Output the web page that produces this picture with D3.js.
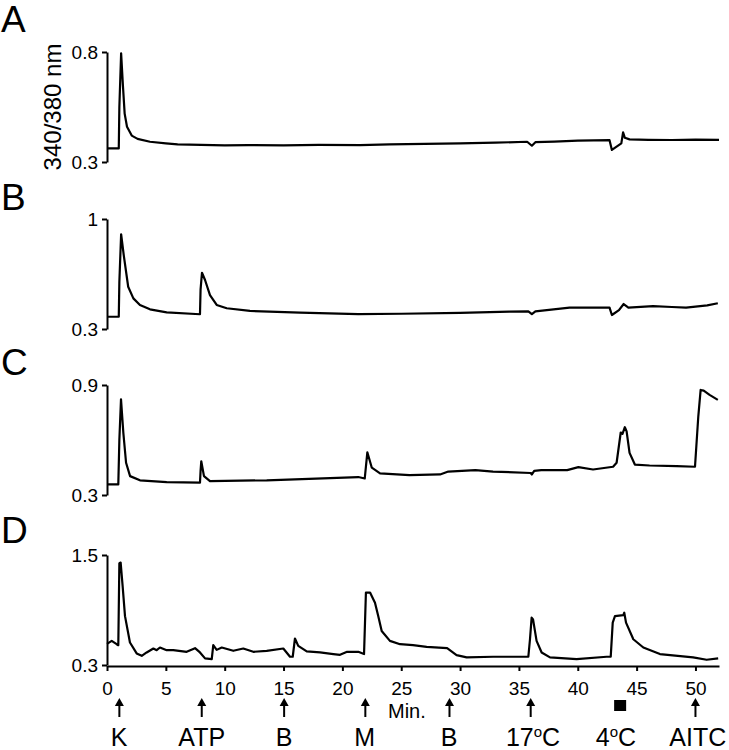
<!DOCTYPE html>
<html><head><meta charset="utf-8">
<script src="https://cdn.jsdelivr.net/npm/d3@7"></script>
<style>
body{margin:0;background:#fff;}
text{font-family:Arial,"Liberation Sans",sans-serif;fill:#000;}
</style></head>
<body>
<svg id="chart" width="729" height="750"></svg>
<script>
// ---- Data (time in min, 340/380 nm ratio) ----
const timesA = [0,1.0,1.05,1.2,1.35,1.5,1.7,2.1,2.6,3.65,5,6,8,10,12,15,18,21.5,24,27,30,33,35.7,36.1,36.4,38,40,42.7,42.9,43.7,43.85,44.0,44.4,46,48,50,52];
const valuesA = [0.362,0.362,0.55,0.794,0.65,0.52,0.46,0.42,0.405,0.392,0.385,0.38,0.378,0.376,0.377,0.376,0.378,0.377,0.38,0.382,0.385,0.388,0.392,0.374,0.39,0.393,0.397,0.399,0.355,0.385,0.435,0.41,0.403,0.401,0.4,0.402,0.401];

const timesB = [0,1.0,1.05,1.2,1.44,1.8,2.24,2.8,3.65,5.07,7.9,7.95,8.07,8.33,8.75,9.32,10.17,12.15,16.4,21.35,25,30,34.2,35.8,36.1,36.4,39.3,42.7,42.9,43.5,43.9,44.3,46.4,48,49.2,51,51.9];
const valuesB = [0.378,0.378,0.6,0.903,0.76,0.569,0.495,0.453,0.425,0.406,0.394,0.55,0.658,0.612,0.516,0.453,0.432,0.415,0.404,0.395,0.397,0.403,0.41,0.412,0.394,0.412,0.436,0.436,0.389,0.42,0.459,0.436,0.446,0.44,0.436,0.45,0.464];

const timesC = [0,0.96,1.05,1.19,1.39,1.62,1.96,2.8,5.07,7.9,7.95,8.01,8.24,8.75,13.57,21.35,21.9,22.12,22.5,23.2,25.7,28.3,29.0,31.3,32.8,36.0,36.1,36.3,36.9,39.1,40.05,41.3,43.0,43.3,43.65,43.8,44.0,44.15,44.4,44.85,46.1,48.4,49.96,50.24,50.44,50.7,51.2,51.9];
const valuesC = [0.358,0.358,0.6,0.822,0.638,0.476,0.403,0.38,0.37,0.367,0.43,0.484,0.403,0.376,0.38,0.398,0.39,0.533,0.449,0.418,0.408,0.412,0.428,0.436,0.428,0.42,0.412,0.432,0.436,0.436,0.452,0.439,0.454,0.476,0.641,0.634,0.67,0.647,0.53,0.466,0.461,0.457,0.454,0.728,0.873,0.869,0.846,0.819];

const timesD = [0,0.4,0.82,0.96,1.05,1.16,1.33,1.53,1.95,2.52,2.95,3.37,3.94,4.22,4.5,5.07,5.63,6.77,7.48,7.9,8.33,8.9,9.03,9.32,9.75,10.73,11.58,12.43,13.57,14.98,15.55,15.78,15.97,16.25,16.97,18.1,19.23,19.8,20.4,21.35,21.84,22.0,22.35,22.77,23.05,23.34,24.04,24.9,26.0,27.16,28.9,29.7,30.56,32.8,35.8,35.94,36.08,36.2,36.5,36.93,37.64,39.9,42.45,42.8,42.97,43.16,43.87,43.95,44.1,44.72,45.57,46.98,49.8,50.95,51.93];
const valuesD = [0.53,0.563,0.527,0.516,1.41,1.417,1.157,0.833,0.545,0.426,0.4,0.437,0.48,0.462,0.491,0.462,0.462,0.444,0.484,0.437,0.372,0.365,0.516,0.465,0.491,0.455,0.48,0.444,0.455,0.48,0.39,0.39,0.589,0.509,0.448,0.437,0.419,0.411,0.444,0.444,0.419,1.09,1.09,0.978,0.833,0.671,0.563,0.527,0.516,0.498,0.484,0.408,0.383,0.39,0.39,0.581,0.816,0.797,0.563,0.437,0.383,0.365,0.39,0.39,0.762,0.833,0.844,0.87,0.762,0.581,0.491,0.419,0.383,0.357,0.372];

const panelLetters = ["A","B","C","D"];
const yDomains = [[0.3,0.8],[0.3,1],[0.3,0.9],[0.3,1.5]];
const yTickLabels = [["0.3","0.8"],["0.3","1"],["0.3","0.9"],["0.3","1.5"]];
const xTicks = [0,5,10,15,20,25,30,35,40,45,50];
const eventTimes = [1.05,8.05,15.05,21.95,29.1,36.0,43.6,50.0];
const labelTimes = [1.03,8.05,15.04,21.9,29.06,36.2,43.25,50.2];
const eventLabels = ["K","ATP","B","M","B","17|C","4|C","AITC"];
const eventMarks = ["arrow","arrow","arrow","arrow","arrow","arrow","square","arrow"];

// ---- Layout ----
const svg = d3.select("#chart");
const x = d3.scaleLinear().domain([0,52]).range([107,719]);
const panelTops = [52,219,385,555];
const panelH = 110;
const letterY = [32,210,375,543];
const series = [[timesA,valuesA],[timesB,valuesB],[timesC,valuesC],[timesD,valuesD]];

series.forEach((s,i)=>{
  const y = d3.scaleLinear().domain(yDomains[i]).range([panelTops[i]+panelH, panelTops[i]]);
  const g = svg.append("g");
  const ax = d3.axisLeft(y).tickValues(yDomains[i]).tickSize(5).tickSizeOuter(0).tickPadding(4)
    .tickFormat((d,k)=>yTickLabels[i][k]);
  const ag = g.append("g").attr("transform","translate(107,0)").call(ax);
  ag.selectAll("path,line").attr("stroke","#000").attr("stroke-width",2);
  ag.selectAll("text").style("font-size","19px").style("font-family","Arial,'Liberation Sans',sans-serif");
  const pts = s[0].map((t,k)=>[t,s[1][k]]);
  g.append("path").datum(pts)
    .attr("fill","none").attr("stroke","#000").attr("stroke-width",2.2).attr("stroke-linejoin","round")
    .attr("d", d3.line().x(d=>x(d[0])).y(d=>y(d[1])));
  svg.append("text").attr("x",1).attr("y",letterY[i]).style("font-size","37px").text(panelLetters[i]);
  if(i===3){
    const xa = d3.axisBottom(x).tickValues(xTicks).tickSize(5).tickSizeOuter(0).tickPadding(11);
    const xg = g.append("g").attr("transform",`translate(0,${panelTops[i]+panelH+1})`).call(xa);
    xg.selectAll("path,line").attr("stroke","#000").attr("stroke-width",2);
    xg.selectAll("text").style("font-size","19px").style("font-family","Arial,'Liberation Sans',sans-serif");
  }
});

// y label
svg.append("text").attr("transform","translate(61,107) rotate(-90)")
  .attr("text-anchor","middle").style("font-size","24px").text("340/380 nm");

// Min.
svg.append("text").attr("x",388).attr("y",718).style("font-size","20px").text("Min.");

// event markers
eventTimes.forEach((t,i)=>{
  const cx = x(t);
  if(eventMarks[i]==="arrow"){
    svg.append("line").attr("x1",cx).attr("x2",cx).attr("y1",704).attr("y2",717).attr("stroke","#000").attr("stroke-width",2);
    svg.append("path").attr("d",`M${cx-4.5},706 L${cx},698 L${cx+4.5},706 Z`).attr("fill","#000");
  } else {
    svg.append("rect").attr("x",cx-6).attr("y",700).attr("width",12).attr("height",11).attr("fill","#000");
  }
  const lab = eventLabels[i];
  const tx = svg.append("text").attr("x",x(labelTimes[i])).attr("y",746).attr("text-anchor","middle").style("font-size","25px");
  if(lab.includes("|")){
    const parts = lab.split("|");
    tx.append("tspan").text(parts[0]);
    tx.append("tspan").attr("dy",-9).style("font-size","15px").text("o");
    tx.append("tspan").attr("dy",9).text(parts[1]);
  } else tx.text(lab);
});
</script>
</body></html>
